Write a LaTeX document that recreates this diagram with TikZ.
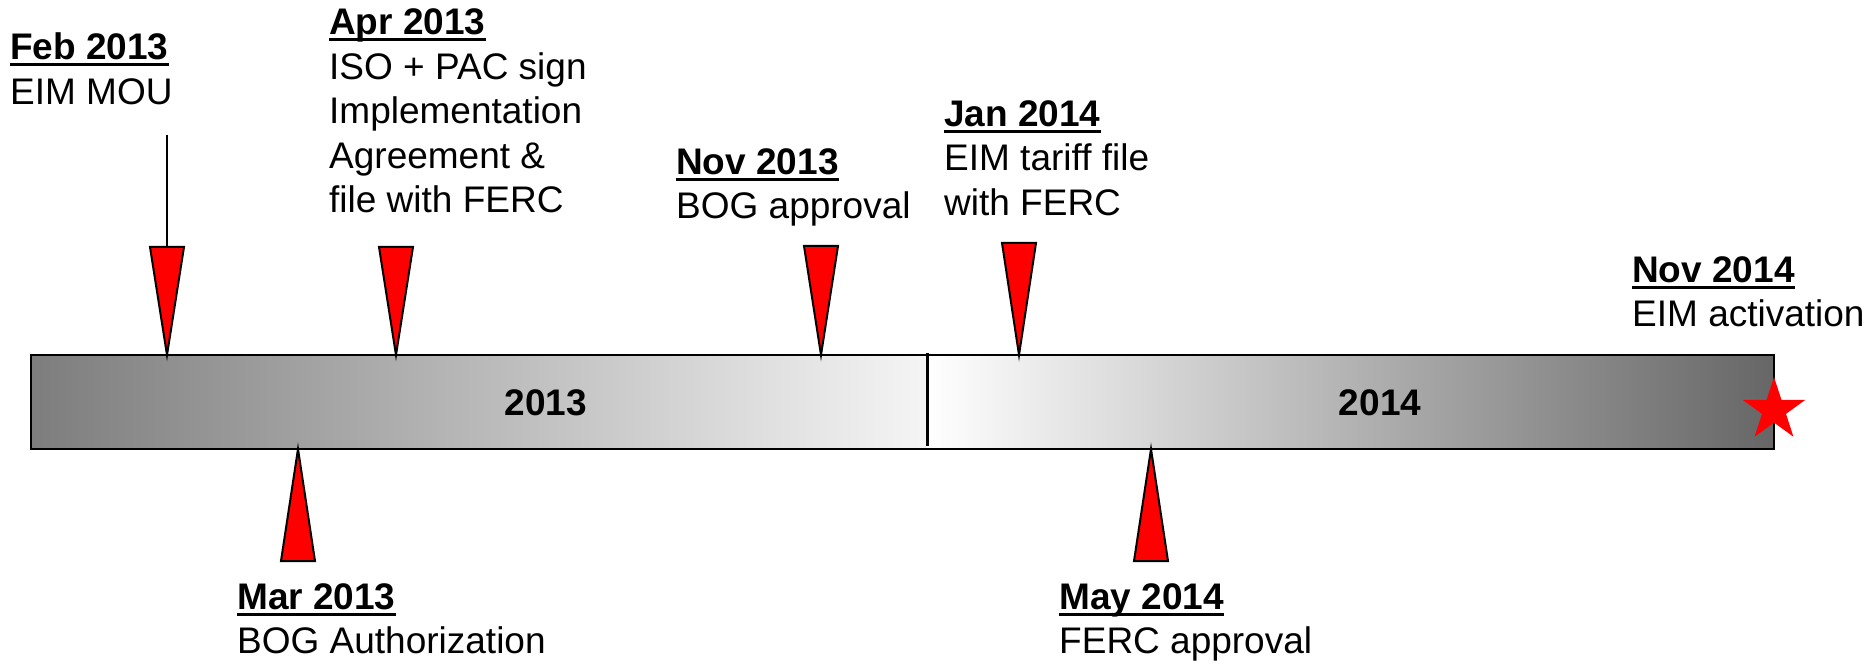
\documentclass[tikz,border=0pt]{standalone}
\usepackage{fontspec}
\setmainfont{Liberation Sans}
\usetikzlibrary{shapes.geometric}

\definecolor{barDark}{gray}{0.49}
\definecolor{barLight}{gray}{0.96}
\definecolor{barEnd}{gray}{0.40}

% bold date with a thick underline
\newcommand{\datehead}[1]{\setbox0\hbox{\bfseries #1}\rlap{\rule[-6.5pt]{\wd0}{3pt}}\box0}

\begin{document}
\begin{tikzpicture}[x=1pt, y=1pt,
        marker/.style={draw=black, line width=2pt, fill=red, line join=miter},
        msnote/.style={anchor=base west, align=left, inner sep=0pt, font=\fontsize{37}{44.5}\selectfont},
        yearlabel/.style={anchor=base, inner sep=0pt, font=\fontsize{37}{44.5}\selectfont\bfseries}]
        \useasboundingbox (0,0) rectangle (1870,662);

        % the bar
        \shade[left color=barDark, right color=barLight] ( 31,213) rectangle ( 927,307);
        \shade[left color=white,   right color=barEnd  ] (927,213) rectangle (1774,307);
        \draw[line width=2pt] (31,213) rectangle (1774,307);
        \draw[line width=3pt] (927,216) -- (927,309);

        \node[yearlabel] (y2013) at ( 546,247) {2013};
        \node[yearlabel] (y2014) at (1380,247) {2014};

        % markers above the bar
        \coordinate (feb) at ( 167,307);
        \coordinate (apr) at ( 396,307);
        \coordinate (nov) at ( 821,307);
        \coordinate (jan) at (1019,307);

        \coordinate (febtop)  at (167,415);
        \coordinate (febline) at (167,527);
        \draw[line width=2pt] (febline) -- (febtop);

        \draw[marker] (feb) -- ++(-17,108) -- ++(34,0) -- cycle;
        \draw[marker] (apr) -- ++(-17,108) -- ++(34,0) -- cycle;
        \draw[marker] (nov) -- ++(-17,109) -- ++(34,0) -- cycle;
        \draw[marker] (jan) -- ++(-17,112) -- ++(34,0) -- cycle;

        % markers below the bar
        \coordinate (mar) at ( 298,213);
        \coordinate (may) at (1151,213);

        \draw[marker] (mar) -- ++(-17,-112) -- ++(34,0) -- cycle;
        \draw[marker] (may) -- ++(-17,-112) -- ++(34,0) -- cycle;

        \node[star, star points=5, star point ratio=2.618, minimum size=66pt,
              inner sep=0pt, fill=red] (activation) at (1774,252) {};

        % milestones (placed at the baseline of their last line)
        \node[msnote] (feblabel) at (  10,557.5) {\datehead{Feb 2013}\\EIM MOU};
        \node[msnote] (aprlabel) at ( 329,449  ) {\datehead{Apr 2013}\\ISO + PAC sign\\Implementation\\Agreement \&\\file with FERC};
        \node[msnote] (novlabel) at ( 676,443  ) {\datehead{Nov 2013}\\BOG approval};
        \node[msnote] (janlabel) at ( 944,446.5) {\datehead{Jan 2014}\\EIM tariff file\\with FERC};
        \node[msnote] (actlabel) at (1632,335  ) {\datehead{Nov 2014}\\EIM activation};
        \node[msnote] (marlabel) at ( 237,  8.5) {\datehead{Mar 2013}\\BOG Authorization};
        \node[msnote] (maylabel) at (1059,  8.5) {\datehead{May 2014}\\FERC approval};
\end{tikzpicture}
\end{document}
